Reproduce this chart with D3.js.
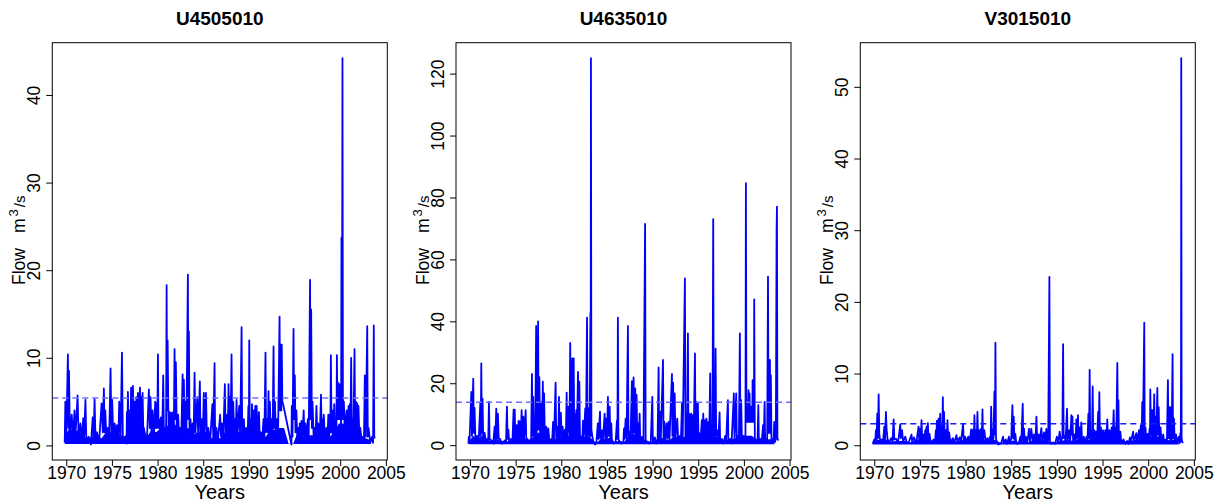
<!DOCTYPE html>
<html>
<head>
<meta charset="utf-8">
<script src="https://cdn.jsdelivr.net/npm/d3@7"></script>
<style>
  body { margin: 0; background: #fff; }
  text { font-family: "Liberation Sans", Arial, Helvetica, sans-serif; }
</style>
</head>
<body>
<svg width="1220" height="504"></svg>
<script>
// station names (panel titles)
var stations = ["U4505010", "U4635010", "V3015010"];

// tick labels
var xTicks = [1970, 1975, 1980, 1985, 1990, 1995, 2000, 2005];
var yTicks1 = [0, 10, 20, 30, 40];
var yTicks2 = [0, 20, 40, 60, 80, 100, 120];
var yTicks3 = [0, 10, 20, 30, 40, 50];

// dashed reference level per station (m3/s)
var thresholds = [5.4, 13.9, 3.0];

// envelope of the dense low-flow band, every half year from 1969.85
var bandYears = d3.range(1969.85, 2003.8, 0.5);
var bandLow = [0.15, 0.3, 0.1];
var band1 = [1.0,2.0,1.5,1.8,1.0,0.8,1.0,1.2,0.8,1.5,1.5,1.8,1.2,1.0,1.5,2.5,2.8,2.5,1.0,1.8,
  1.5,2.0,2.0,2.5,2.5,1.8,2.0,2.0,1.2,1.5,1.5,1.5,0.8,1.2,0.8,1.5,2.5,2.5,1.5,1.5,
  0.8,1.5,1.5,1.2,1.0,1.8,1.8,2.0,2.0,0.2,0.2,1.5,1.0,1.0,1.2,1.0,1.0,1.2,1.0,1.5,
  2.5,2.5,2.0,2.5,2.5,1.0,0.8,0.6];
var band2 = [1,3,2,3,1.5,1.5,2,1.5,1,1.5,2,2.5,2.5,1.5,2.5,4,4,3,1.5,2,
  2.5,3,3,4,4,2.5,3,2,0.8,2,2,2.5,1,1.5,1,2.5,3.5,3.5,2,1.5,
  1,1.5,2.5,2,1.5,3,2.5,2.5,3.5,3,3,3,3,2.5,3,2,1.2,2,2,2.5,
  3,3,3,2,1.5,1.5,2,1.5];
var band3 = [0.3,0.8,0.6,0.8,0.5,0.6,0.6,0.6,0.4,0.6,0.8,0.9,0.9,0.5,0.9,1.2,1.2,0.8,0.5,0.7,
  0.7,0.8,0.9,1.0,1.0,0.6,0.8,0.7,0.3,0.5,0.5,0.7,0.4,0.6,0.4,0.7,0.9,0.9,0.6,0.5,
  0.4,0.6,0.7,0.7,0.6,0.9,0.8,0.7,1.0,0.9,1.0,1.0,0.9,0.8,0.9,0.6,0.5,0.7,0.8,1.0,
  1.2,1.2,1.2,1.2,0.8,0.7,0.8,0.6];

// daily flow peaks and troughs [year, m3/s]
var flow1 = [[1969.83,0.3],[1969.9,5.0],[1970.0,0.8],[1970.18,10.4],[1970.24,2],[1970.3,8.5],[1970.4,1],[1970.6,3.5],[1970.75,0.8],[1970.9,4],
  [1971.0,1],[1971.24,5.7],[1971.35,1],[1971.55,2.5],[1971.7,0.6],[1971.86,3.1],[1971.95,0.6],[1972.1,5.2],[1972.2,0.6],[1972.45,1],
  [1972.7,0.1],[1972.9,3.2],[1973.0,0.8],[1973.1,5.3],[1973.2,0.8],[1973.35,1.5],[1973.6,0.4],[1973.87,4.8],[1974.0,1.5],[1974.12,6.5],
  [1974.2,1.5],[1974.27,4],[1974.4,0.8],[1974.55,2],[1974.7,0.8],[1974.85,8.8],[1974.95,1.5],[1975.03,5.2],[1975.15,1],[1975.3,2.5],
  [1975.45,0.8],[1975.55,2.3],[1975.7,0.6],[1975.8,5],[1975.95,0.8],[1976.1,10.6],[1976.2,0.8],[1976.45,1],[1976.6,0.2],[1976.64,3.8],
  [1976.7,1],[1976.75,6.1],[1976.85,1.5],[1976.97,4],[1977.05,1.5],[1977.1,6.6],[1977.2,2],[1977.3,6.8],[1977.4,2],[1977.48,5],
  [1977.55,2],[1977.68,5.5],[1977.75,2],[1977.85,6.0],[1977.95,2],[1978.07,6.6],[1978.15,2],[1978.22,5.5],[1978.3,2],[1978.36,6],
  [1978.45,1],[1978.5,2],[1978.7,0.4],[1978.85,1],[1979.05,6.4],[1979.15,2],[1979.23,5.5],[1979.33,1.5],[1979.45,4],[1979.6,1],
  [1979.74,5],[1979.8,2],[1979.88,4.8],[1979.97,2],[1980.04,10.4],[1980.1,2],[1980.18,3],[1980.3,1.5],[1980.37,3.2],[1980.5,1],
  [1980.62,8],[1980.7,1],[1980.85,2],[1980.93,1],[1980.99,18.3],[1981.04,4],[1981.1,12],[1981.2,2],[1981.35,3.8],[1981.45,2],
  [1981.52,3.7],[1981.6,2],[1981.7,3.8],[1981.78,2],[1981.86,11],[1981.92,3],[1982.0,9.5],[1982.1,2],[1982.25,3.5],[1982.35,1.5],
  [1982.45,2],[1982.6,1],[1982.74,8.1],[1982.8,2],[1982.88,7.5],[1982.95,2],[1983.03,5],[1983.15,1],[1983.32,19.5],[1983.37,3],
  [1983.43,13],[1983.5,1.5],[1983.6,3],[1983.75,0.8],[1983.85,2.5],[1983.95,0.8],[1984.05,8.3],[1984.15,1.5],[1984.35,5.5],[1984.45,1],
  [1984.63,7.3],[1984.7,1],[1984.85,3],[1984.95,1],[1985.07,6],[1985.15,1.5],[1985.3,6],[1985.4,1],[1985.55,2],[1985.75,0.3],
  [1986.0,4.7],[1986.1,1],[1986.24,9.4],[1986.3,1],[1986.45,2],[1986.6,0.3],[1986.65,1],[1986.85,3.5],[1986.95,1],[1987.05,2.5],
  [1987.2,1],[1987.37,7],[1987.45,1.5],[1987.62,3.5],[1987.7,1.5],[1987.77,7],[1987.83,2],[1987.92,5.5],[1988.0,2],[1988.1,10.4],
  [1988.17,2],[1988.28,5],[1988.4,1],[1988.47,3],[1988.55,1],[1988.65,5.2],[1988.75,1],[1988.94,4.5],[1989.05,1],[1989.2,13.5],
  [1989.27,1],[1989.45,3],[1989.55,0.5],[1989.7,2],[1989.85,0.5],[1989.95,4.5],[1990.0,1],[1990.04,12],[1990.1,1],[1990.2,3],
  [1990.3,1],[1990.34,4.7],[1990.42,1],[1990.55,4],[1990.6,1],[1990.7,4.5],[1990.76,1],[1990.85,4.5],[1990.95,1],[1991.1,3.8],
  [1991.2,0.5],[1991.3,1.5],[1991.45,0.5],[1991.6,3],[1991.7,1],[1991.82,10.6],[1991.88,1.5],[1992.0,3],[1992.08,1.5],[1992.15,6.2],
  [1992.22,1.5],[1992.3,5],[1992.4,1],[1992.45,3],[1992.6,1],[1992.7,11.3],[1992.77,2],[1992.85,5],[1992.95,1.5],[1993.05,3],
  [1993.2,1.5],[1993.36,14.7],[1993.42,4],[1993.5,11.5],[1993.55,4],[1993.6,11.5],[1993.66,5],[1993.73,4.8],[1994.66,0.1],[1994.7,4.5],
  [1994.78,1],[1994.89,13.3],[1994.95,3],[1995.03,8],[1995.1,1.5],[1995.2,4],[1995.3,1],[1995.42,2],[1995.55,0.5],[1995.57,2.5],
  [1995.7,0.5],[1995.75,2.8],[1995.85,0.5],[1996.0,4],[1996.1,0.6],[1996.2,2.5],[1996.35,0.5],[1996.45,3],[1996.55,0.5],[1996.7,18.9],
  [1996.75,3],[1996.82,15.5],[1996.9,2],[1996.97,5],[1997.1,0.5],[1997.2,2],[1997.3,0.6],[1997.4,4.5],[1997.5,0.6],[1997.6,2.5],
  [1997.75,0.5],[1997.9,5.8],[1997.97,1],[1998.05,3],[1998.12,1],[1998.2,3.5],[1998.35,0.5],[1998.5,2],[1998.6,0.5],[1998.7,3.5],
  [1998.8,1],[1998.85,3.5],[1998.92,1.5],[1998.98,10.3],[1999.05,1.5],[1999.13,4],[1999.2,1],[1999.35,4.7],[1999.45,1],[1999.52,2],
  [1999.58,1],[1999.64,10.3],[1999.7,3],[1999.75,7.2],[1999.83,3],[1999.93,7],[2000.0,3],[2000.04,5],[2000.1,2],[2000.14,23.7],
  [2000.19,3],[2000.25,44.2],[2000.3,3],[2000.4,5],[2000.5,1.5],[2000.7,4],[2000.78,1.5],[2000.92,4.5],[2001.0,1.5],[2001.06,4.7],
  [2001.12,1.5],[2001.2,10],[2001.27,1.5],[2001.35,3],[2001.45,1.5],[2001.57,11],[2001.63,2],[2001.72,5],[2001.78,2],[2001.86,4.8],
  [2001.92,2],[2002.0,4.5],[2002.1,1],[2002.2,2],[2002.35,0.5],[2002.5,1],[2002.6,0.3],[2002.7,8],[2002.8,1],[2002.96,13.6],
  [2003.02,1],[2003.1,2],[2003.3,0.3],[2003.5,1],[2003.6,0.3],[2003.68,13.7],[2003.73,1],[2003.8,0.8]];

var flow2 = [[1969.83,0.5],[1969.88,2.7],[1969.95,1],[1970.15,17.2],[1970.22,3],[1970.36,21.5],[1970.42,4],[1970.5,12],[1970.6,2],[1970.8,3],
  [1970.95,1],[1971.13,13.5],[1971.18,3],[1971.24,26.4],[1971.3,4],[1971.38,15],[1971.45,2],[1971.6,4],[1971.75,1],[1971.9,2],
  [1972.0,1],[1972.08,14],[1972.15,2],[1972.35,1.5],[1972.55,0.5],[1972.7,6],[1972.78,2],[1972.88,11.8],[1972.95,2],[1973.06,10.2],
  [1973.15,2],[1973.3,2],[1973.5,0.5],[1973.8,1.5],[1973.95,1],[1974.05,12.4],[1974.12,2],[1974.2,5],[1974.3,1],[1974.5,2],
  [1974.65,1],[1974.78,11.5],[1974.83,2],[1974.9,11.5],[1974.97,2],[1975.1,6.5],[1975.2,2],[1975.33,7.9],[1975.4,2],[1975.48,7.5],
  [1975.55,2],[1975.66,11.3],[1975.72,2],[1975.84,9.2],[1975.92,2],[1976.1,11.3],[1976.17,1.5],[1976.3,2],[1976.45,1],[1976.6,1],
  [1976.7,1.5],[1976.79,23],[1976.85,3],[1976.93,15.6],[1977.0,3],[1977.08,9],[1977.15,3],[1977.25,38.5],[1977.3,4],[1977.4,22],
  [1977.43,5],[1977.46,40],[1977.52,5],[1977.6,22],[1977.68,4],[1977.8,14],[1977.9,3],[1977.98,20.5],[1978.05,3],[1978.12,16.7],
  [1978.2,2],[1978.35,6],[1978.45,2],[1978.58,5.4],[1978.7,1],[1978.9,2],[1979.0,1],[1979.1,7.5],[1979.2,1.5],[1979.38,20.2],
  [1979.45,2],[1979.6,6],[1979.68,2],[1979.75,15.6],[1979.82,2],[1979.95,10.5],[1980.05,2],[1980.15,6],[1980.25,2],[1980.4,5],
  [1980.5,2],[1980.59,17],[1980.65,3],[1980.8,12.4],[1980.9,2],[1980.98,33],[1981.05,3],[1981.2,28],[1981.25,3],[1981.36,28],
  [1981.42,3],[1981.5,10],[1981.58,3],[1981.65,11.3],[1981.72,3],[1981.83,23.7],[1981.9,3],[1981.98,20.5],[1982.05,2],[1982.2,2.7],
  [1982.3,1.5],[1982.38,7.9],[1982.45,2],[1982.63,11.9],[1982.7,2],[1982.82,41.2],[1982.88,3],[1983.0,11.9],[1983.1,2],[1983.19,42.6],
  [1983.22,3],[1983.25,125],[1983.3,5],[1983.35,4],[1983.5,1],[1983.7,0.2],[1983.85,1],[1984.0,7],[1984.08,2],[1984.24,10.8],
  [1984.3,2],[1984.45,4.8],[1984.55,1],[1984.75,10.2],[1984.82,2],[1984.9,8.6],[1985.0,2],[1985.11,15.6],[1985.18,3],[1985.3,12.4],
  [1985.38,2],[1985.48,7],[1985.55,1],[1985.75,0.5],[1985.95,1],[1986.1,8],[1986.15,2],[1986.2,41.2],[1986.26,2],[1986.4,1],
  [1986.6,0.5],[1986.8,1],[1986.87,5.4],[1986.93,2],[1987.05,8.6],[1987.15,2],[1987.3,38.5],[1987.36,2],[1987.5,4.3],[1987.58,2],
  [1987.74,20.7],[1987.8,3],[1987.92,21.9],[1987.98,4],[1988.1,18.3],[1988.17,3],[1988.25,16.2],[1988.32,2],[1988.42,7],[1988.5,2],
  [1988.58,10.2],[1988.65,1],[1988.85,2.7],[1989.0,1],[1989.18,71.5],[1989.24,1.5],[1989.4,1],[1989.6,0.5],[1989.8,1],[1989.97,15.6],
  [1990.03,1],[1990.25,2.5],[1990.4,0.5],[1990.55,2],[1990.66,25.1],[1990.72,2],[1990.8,10.8],[1990.9,1.5],[1991.14,27.5],[1991.2,2],
  [1991.3,7.5],[1991.38,2],[1991.55,7],[1991.62,2],[1991.75,7.5],[1991.85,1.5],[1992.12,23],[1992.17,3],[1992.25,20.2],[1992.3,3],
  [1992.42,16.7],[1992.5,2],[1992.7,8.6],[1992.8,1.5],[1993.0,3],[1993.1,1.5],[1993.22,13.5],[1993.3,2],[1993.54,53.9],[1993.6,3],
  [1993.7,10],[1993.78,3],[1993.87,36.1],[1993.93,3],[1994.05,10],[1994.12,3],[1994.23,10.2],[1994.3,3],[1994.42,9.7],[1994.5,2],
  [1994.64,29.6],[1994.7,3],[1994.8,14],[1994.88,2],[1994.96,13.5],[1995.03,2],[1995.15,3.8],[1995.25,2],[1995.4,8.1],[1995.47,2],
  [1995.55,10.2],[1995.62,2],[1995.76,8.1],[1995.82,2],[1995.9,8.6],[1996.0,2],[1996.12,7.5],[1996.2,2],[1996.31,23.2],[1996.38,2],
  [1996.48,5],[1996.56,2],[1996.64,73],[1996.7,3],[1996.78,20],[1996.84,3],[1996.9,31.2],[1996.96,3],[1997.08,4.8],[1997.2,1.5],
  [1997.34,10.6],[1997.4,1],[1997.6,2],[1997.75,0.5],[1997.95,3],[1998.05,1],[1998.25,14.5],[1998.3,1],[1998.5,2],[1998.65,0.5],
  [1998.9,16.7],[1998.97,2],[1999.16,16.7],[1999.22,2],[1999.35,3],[1999.45,1],[1999.56,36.1],[1999.62,3],[1999.7,14.5],[1999.78,2],
  [1999.9,3],[2000.0,1],[2000.1,3],[2000.17,2],[2000.22,84.6],[2000.28,7.5],[2000.45,7.5],[2000.51,17.8],[2000.55,7.5],[2000.6,7.5],
  [2000.62,16.7],[2000.66,7.5],[2000.78,7.5],[2000.8,12.4],[2000.84,7.5],[2000.92,7.5],[2000.95,21],[2000.98,7.5],[2001.1,7.5],[2001.13,47.1],
  [2001.2,2],[2001.35,1],[2001.5,2],[2001.58,12.9],[2001.64,1],[2001.8,2],[2001.95,1],[2002.1,6.5],[2002.17,1.5],[2002.27,14],
  [2002.33,1.5],[2002.45,2],[2002.55,1],[2002.64,54.4],[2002.7,4],[2002.78,10],[2002.82,4],[2002.85,27.5],[2002.9,4],[2002.95,22.6],
  [2003.02,2],[2003.15,2],[2003.25,1],[2003.32,7.5],[2003.4,1],[2003.5,2],[2003.58,69],[2003.62,77],[2003.67,2],[2003.8,1.5]];

var flow3 = [[1969.83,0.2],[1970.0,0.8],[1970.1,0.4],[1970.18,2.1],[1970.25,0.8],[1970.33,4.4],[1970.4,1],[1970.48,7.1],[1970.55,1.6],[1970.65,0.6],
  [1970.8,0.8],[1970.95,0.3],[1971.1,2.6],[1971.18,0.8],[1971.28,4.65],[1971.35,2.3],[1971.45,0.9],[1971.6,0.3],[1971.85,1],[1972.0,0.5],
  [1972.12,3.6],[1972.2,0.8],[1972.4,0.9],[1972.6,0.3],[1972.85,2.9],[1972.9,1],[1973.05,2.1],[1973.15,0.5],[1973.4,1.2],[1973.55,0.3],
  [1973.8,0.5],[1974.08,1.5],[1974.15,0.5],[1974.35,1.1],[1974.5,0.5],[1974.65,0.8],[1974.85,2.6],[1974.92,0.8],[1975.02,2.3],[1975.1,0.8],
  [1975.18,3.5],[1975.25,0.8],[1975.4,1.5],[1975.5,0.6],[1975.58,2.1],[1975.65,0.8],[1975.72,2.6],[1975.8,0.8],[1975.87,3.1],[1975.95,0.6],
  [1976.05,1.6],[1976.2,0.3],[1976.5,0.8],[1976.65,0.3],[1976.75,2.1],[1976.8,0.8],[1976.86,3.4],[1976.93,0.8],[1977.04,3.7],[1977.12,0.8],
  [1977.22,4.4],[1977.3,1],[1977.38,2.3],[1977.45,1],[1977.51,6.7],[1977.57,1],[1977.64,4.65],[1977.72,0.8],[1977.85,2.1],[1977.93,0.6],
  [1978.02,3.5],[1978.1,0.6],[1978.2,1.8],[1978.35,0.3],[1978.6,1],[1978.75,0.3],[1979.0,1.4],[1979.1,0.5],[1979.35,1.1],[1979.5,0.5],
  [1979.73,3.0],[1979.8,0.5],[1979.95,1.2],[1980.1,0.5],[1980.3,1.2],[1980.45,0.5],[1980.61,2.2],[1980.7,0.7],[1980.83,2.2],[1980.9,0.7],
  [1980.97,4.2],[1981.03,0.8],[1981.15,2.1],[1981.22,0.8],[1981.3,4.65],[1981.38,0.8],[1981.5,2.1],[1981.6,0.8],[1981.7,2.3],[1981.78,0.8],
  [1981.85,5.0],[1981.92,0.8],[1982.05,2.1],[1982.2,0.5],[1982.4,1],[1982.55,0.4],[1982.68,1.2],[1982.75,0.6],[1982.8,5.4],[1982.87,0.8],
  [1982.95,2.1],[1983.05,0.8],[1983.16,7.5],[1983.22,1.5],[1983.27,14.3],[1983.33,1],[1983.4,0.5],[1983.6,0.1],[1983.9,0.3],[1984.1,1.2],
  [1984.2,0.3],[1984.4,0.8],[1984.55,0.2],[1984.75,1.2],[1984.85,0.3],[1985.0,0.8],[1985.13,5.6],[1985.2,1],[1985.27,4.0],[1985.35,0.8],
  [1985.45,1.6],[1985.55,0.3],[1985.7,0.2],[1985.85,0.4],[1986.0,1.2],[1986.1,0.4],[1986.26,5.8],[1986.32,0.5],[1986.4,2.3],[1986.48,0.4],
  [1986.6,1.2],[1986.75,0.3],[1986.95,2.3],[1987.05,0.5],[1987.2,2.3],[1987.35,0.5],[1987.5,1.5],[1987.65,0.5],[1987.76,4.0],[1987.85,0.5],
  [1988.0,1.5],[1988.1,0.5],[1988.3,2.4],[1988.4,0.5],[1988.6,1.8],[1988.7,0.4],[1988.85,2.3],[1988.95,0.3],[1989.05,0.8],[1989.18,23.5],
  [1989.24,0.5],[1989.4,0.2],[1989.6,0.4],[1989.8,0.2],[1990.0,1.2],[1990.15,0.3],[1990.3,1.9],[1990.45,0.4],[1990.6,1.2],[1990.68,14.1],
  [1990.74,1],[1990.85,1.3],[1990.95,0.5],[1991.11,5.1],[1991.18,0.6],[1991.35,2.1],[1991.45,0.5],[1991.59,4.2],[1991.63,1.5],[1991.7,4.0],
  [1991.78,0.5],[1991.95,1.5],[1992.05,0.5],[1992.13,3.6],[1992.2,1],[1992.31,4.2],[1992.38,1],[1992.5,2.5],[1992.58,0.5],[1992.68,3.2],
  [1992.75,0.4],[1992.95,1.2],[1993.05,0.4],[1993.25,1.2],[1993.35,0.5],[1993.45,4.4],[1993.52,1],[1993.59,10.5],[1993.65,1],[1993.78,2.1],
  [1993.85,1],[1993.92,8.2],[1993.98,1],[1994.1,2.1],[1994.2,0.6],[1994.3,1.9],[1994.4,0.6],[1994.52,4.65],[1994.58,1],[1994.65,7.4],
  [1994.72,1],[1994.82,2.5],[1994.9,0.6],[1995.05,2.1],[1995.15,0.6],[1995.3,2.1],[1995.4,0.6],[1995.52,3.6],[1995.6,0.6],[1995.75,2.1],
  [1995.85,0.5],[1996.0,2.5],[1996.1,0.5],[1996.22,4.9],[1996.3,0.6],[1996.42,2.5],[1996.5,0.6],[1996.62,11.5],[1996.68,1],[1996.74,6.3],
  [1996.8,0.6],[1996.95,1.9],[1997.05,0.4],[1997.3,0.8],[1997.5,0.2],[1997.7,0.6],[1997.85,0.2],[1998.0,1.1],[1998.1,0.4],[1998.35,1.9],
  [1998.45,0.4],[1998.7,1.7],[1998.8,0.4],[1999.0,2.1],[1999.1,0.5],[1999.2,2.8],[1999.28,1],[1999.35,6.0],[1999.42,1],[1999.57,17.1],
  [1999.62,1],[1999.7,2.5],[1999.8,0.6],[1999.95,1.6],[2000.05,0.5],[2000.15,2.3],[2000.2,1],[2000.23,7.8],[2000.3,1.5],[2000.37,4.9],
  [2000.43,1],[2000.52,4.9],[2000.58,1],[2000.66,7.1],[2000.72,1],[2000.82,4.0],[2000.9,1],[2001.0,8.0],[2001.05,1.5],[2001.15,5.3],
  [2001.22,0.8],[2001.35,2.5],[2001.45,0.5],[2001.65,1.5],[2001.75,0.4],[2001.95,0.8],[2002.05,0.4],[2002.16,9.1],[2002.22,1],[2002.33,5.3],
  [2002.4,0.8],[2002.5,5.3],[2002.57,0.8],[2002.67,12.7],[2002.72,1],[2002.82,3.7],[2002.9,0.5],[2003.05,1.5],[2003.15,0.4],[2003.35,1.2],
  [2003.45,0.3],[2003.52,1.7],[2003.57,0.5],[2003.6,13.3],[2003.61,27.8],[2003.62,54],[2003.66,1],[2003.72,0.5],[2003.8,0.3]];

var svg = d3.select("svg"),
    plotTop = 42.7,
    plotH = 417.3,
    plotW = 335;

var panels = [
  { name: stations[0], flow: flow1, band: band1, low: bandLow[0], ticks: yTicks1, thr: thresholds[0], left: 52.3, dash: "#6d6dff" },
  { name: stations[1], flow: flow2, band: band2, low: bandLow[1], ticks: yTicks2, thr: thresholds[1], left: 456, dash: "#6d6dff" },
  { name: stations[2], flow: flow3, band: band3, low: bandLow[2], ticks: yTicks3, thr: thresholds[2], left: 860.3, dash: "#1a1aff" }
];

// R style 4% padding around the data range
function padded(ext) {
  var r = ext[1] - ext[0];
  return [ext[0] - 0.04 * r, ext[1] + 0.04 * r];
}

panels.forEach(function(p) {
  var g = svg.append("g").attr("transform", "translate(" + p.left + "," + plotTop + ")");

  var x = d3.scaleLinear()
    .domain(padded(d3.extent(p.flow, function(d) { return d[0]; })))
    .range([0, plotW]);
  var y = d3.scaleLinear()
    .domain(padded(d3.extent(p.flow, function(d) { return d[1]; })))
    .range([plotH, 0]);

  // dense low-flow band
  var area = d3.area()
    .x(function(d, i) { return x(bandYears[i]); })
    .y0(y(p.low))
    .y1(function(d) { return y(d); });
  g.append("path")
    .datum(p.band)
    .attr("fill", "#0000ff")
    .attr("d", area);

  var line = d3.line()
    .x(function(d) { return x(d[0]); })
    .y(function(d) { return y(d[1]); });
  g.append("path")
    .datum(p.flow)
    .attr("fill", "none")
    .attr("stroke", "#0000ff")
    .attr("stroke-width", 1.8)
    .attr("stroke-linejoin", "round")
    .attr("d", line);

  // dashed level
  g.append("line")
    .attr("x1", 0)
    .attr("x2", plotW)
    .attr("y1", y(p.thr))
    .attr("y2", y(p.thr))
    .attr("stroke", p.dash)
    .attr("stroke-width", 1.5)
    .attr("stroke-dasharray", "6,4");

  // box
  g.append("rect")
    .attr("width", plotW)
    .attr("height", plotH)
    .attr("fill", "none")
    .attr("stroke", "#000")
    .attr("stroke-width", 1);

  // x axis
  var xa = g.append("g")
    .attr("transform", "translate(0," + plotH + ")")
    .call(d3.axisBottom(x).tickValues(xTicks).tickSize(6).tickFormat(d3.format("d")));
  xa.select(".domain").remove();
  xa.selectAll("line").attr("stroke", "#000");
  xa.selectAll("text")
    .attr("y", 7)
    .attr("fill", "#000")
    .attr("font-size", "17.5px")
    .attr("font-family", "Liberation Sans, Arial, sans-serif");

  // y axis, labels parallel to the axis
  var ya = g.append("g")
    .call(d3.axisLeft(y).tickValues(p.ticks).tickSize(6));
  ya.select(".domain").remove();
  ya.selectAll("line").attr("stroke", "#000");
  ya.selectAll("text")
    .attr("transform", "rotate(-90)")
    .attr("x", 0)
    .attr("y", -12)
    .attr("dy", null)
    .attr("text-anchor", "middle")
    .attr("fill", "#000")
    .attr("font-size", "17.5px")
    .attr("font-family", "Liberation Sans, Arial, sans-serif");

  // title
  g.append("text")
    .attr("x", plotW / 2)
    .attr("y", 25 - plotTop)
    .attr("text-anchor", "middle")
    .attr("font-weight", "bold")
    .attr("font-size", "19px")
    .text(p.name);

  // x label
  g.append("text")
    .attr("x", plotW / 2)
    .attr("y", 499.5 - plotTop)
    .attr("text-anchor", "middle")
    .attr("font-size", "20px")
    .text("Years");

  // y label  Flow  m^3/s
  var yl = g.append("text")
    .attr("transform", "translate(-27," + (285 - plotTop) + ") rotate(-90)")
    .attr("text-anchor", "start")
    .attr("font-size", "17.5px");
  yl.append("tspan").text("Flow");
  yl.append("tspan").attr("dx", 15).text("m");
  yl.append("tspan").attr("font-size", "13px").attr("dy", -7).attr("dx", 2).text("3");
  yl.append("tspan").attr("font-size", "15px").attr("dy", 7).attr("dx", 2).text("/s");
});
</script>
</body>
</html>
